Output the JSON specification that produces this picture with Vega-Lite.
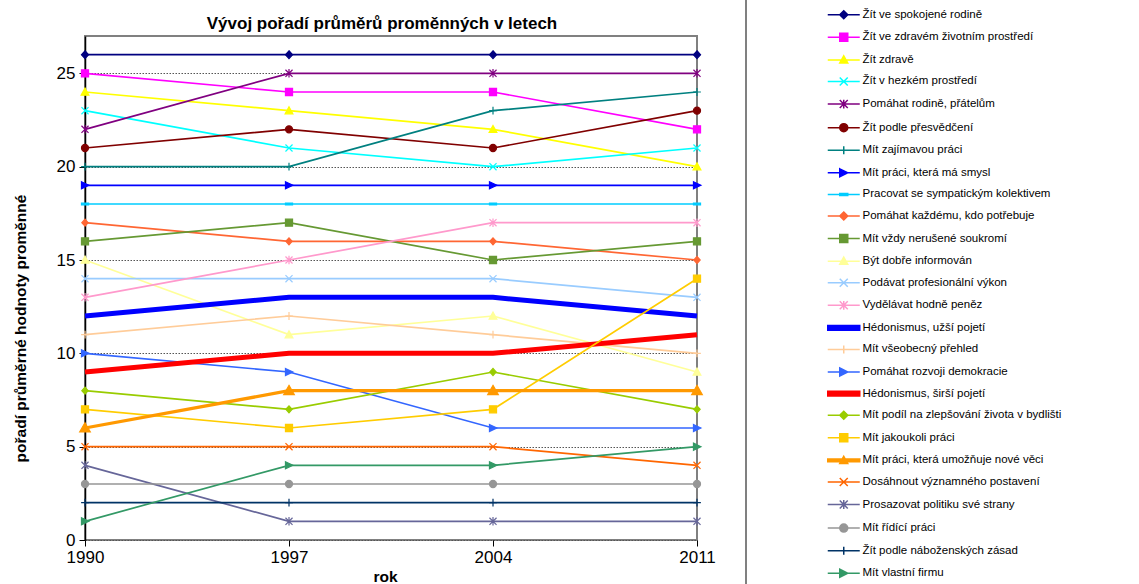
{
  "$schema": "https://vega.github.io/schema/vega-lite/v6.json",
  "width": 612,
  "height": 504,
  "autosize": "none",
  "padding": {"left": 85, "top": 36, "right": 442, "bottom": 44},
  "background": "white",
  "title": {"text": "Vývoj pořadí průměrů proměnných v letech", "font": "Liberation Sans", "fontSize": 17, "fontWeight": "bold", "color": "black", "anchor": "middle", "frame": "group", "dx": -9, "offset": -130, "baseline": "alphabetic"},
  "config": {
    "font": "Liberation Sans",
    "view": {"stroke": "#808080", "strokeWidth": 2},
    "legend": {
      "orient": "none",
      "legendX": 661,
      "legendY": -119,
      "padding": 92,
      "strokeColor": "#808080",
      "strokeWidth": 2,
      "symbolSize": 64,
      "symbolStrokeWidth": 1.5,
      "labelFont": "Liberation Sans",
      "labelFontSize": 11.5,
      "labelColor": "black",
      "labelOffset": 13,
      "labelLimit": 400,
      "rowPadding": 7.58
    }
  },
  "data": {"values": [
    {"name": "Žít ve spokojené rodině", "year": 1990, "value": 26},
    {"name": "Žít ve spokojené rodině", "year": 1997, "value": 26},
    {"name": "Žít ve spokojené rodině", "year": 2004, "value": 26},
    {"name": "Žít ve spokojené rodině", "year": 2011, "value": 26},
    {"name": "Žít ve zdravém životním prostředí", "year": 1990, "value": 25},
    {"name": "Žít ve zdravém životním prostředí", "year": 1997, "value": 24},
    {"name": "Žít ve zdravém životním prostředí", "year": 2004, "value": 24},
    {"name": "Žít ve zdravém životním prostředí", "year": 2011, "value": 22},
    {"name": "Žít zdravě", "year": 1990, "value": 24},
    {"name": "Žít zdravě", "year": 1997, "value": 23},
    {"name": "Žít zdravě", "year": 2004, "value": 22},
    {"name": "Žít zdravě", "year": 2011, "value": 20},
    {"name": "Žít v hezkém prostředí", "year": 1990, "value": 23},
    {"name": "Žít v hezkém prostředí", "year": 1997, "value": 21},
    {"name": "Žít v hezkém prostředí", "year": 2004, "value": 20},
    {"name": "Žít v hezkém prostředí", "year": 2011, "value": 21},
    {"name": "Pomáhat rodině, přátelům", "year": 1990, "value": 22},
    {"name": "Pomáhat rodině, přátelům", "year": 1997, "value": 25},
    {"name": "Pomáhat rodině, přátelům", "year": 2004, "value": 25},
    {"name": "Pomáhat rodině, přátelům", "year": 2011, "value": 25},
    {"name": "Žít podle přesvědčení", "year": 1990, "value": 21},
    {"name": "Žít podle přesvědčení", "year": 1997, "value": 22},
    {"name": "Žít podle přesvědčení", "year": 2004, "value": 21},
    {"name": "Žít podle přesvědčení", "year": 2011, "value": 23},
    {"name": "Mít zajímavou práci", "year": 1990, "value": 20},
    {"name": "Mít zajímavou práci", "year": 1997, "value": 20},
    {"name": "Mít zajímavou práci", "year": 2004, "value": 23},
    {"name": "Mít zajímavou práci", "year": 2011, "value": 24},
    {"name": "Mít práci, která má smysl", "year": 1990, "value": 19},
    {"name": "Mít práci, která má smysl", "year": 1997, "value": 19},
    {"name": "Mít práci, která má smysl", "year": 2004, "value": 19},
    {"name": "Mít práci, která má smysl", "year": 2011, "value": 19},
    {"name": "Pracovat se sympatickým kolektivem", "year": 1990, "value": 18},
    {"name": "Pracovat se sympatickým kolektivem", "year": 1997, "value": 18},
    {"name": "Pracovat se sympatickým kolektivem", "year": 2004, "value": 18},
    {"name": "Pracovat se sympatickým kolektivem", "year": 2011, "value": 18},
    {"name": "Pomáhat každému, kdo potřebuje", "year": 1990, "value": 17},
    {"name": "Pomáhat každému, kdo potřebuje", "year": 1997, "value": 16},
    {"name": "Pomáhat každému, kdo potřebuje", "year": 2004, "value": 16},
    {"name": "Pomáhat každému, kdo potřebuje", "year": 2011, "value": 15},
    {"name": "Mít vždy nerušené soukromí", "year": 1990, "value": 16},
    {"name": "Mít vždy nerušené soukromí", "year": 1997, "value": 17},
    {"name": "Mít vždy nerušené soukromí", "year": 2004, "value": 15},
    {"name": "Mít vždy nerušené soukromí", "year": 2011, "value": 16},
    {"name": "Být dobře informován", "year": 1990, "value": 15},
    {"name": "Být dobře informován", "year": 1997, "value": 11},
    {"name": "Být dobře informován", "year": 2004, "value": 12},
    {"name": "Být dobře informován", "year": 2011, "value": 9},
    {"name": "Podávat profesionální výkon", "year": 1990, "value": 14},
    {"name": "Podávat profesionální výkon", "year": 1997, "value": 14},
    {"name": "Podávat profesionální výkon", "year": 2004, "value": 14},
    {"name": "Podávat profesionální výkon", "year": 2011, "value": 13},
    {"name": "Vydělávat hodně peněz", "year": 1990, "value": 13},
    {"name": "Vydělávat hodně peněz", "year": 1997, "value": 15},
    {"name": "Vydělávat hodně peněz", "year": 2004, "value": 17},
    {"name": "Vydělávat hodně peněz", "year": 2011, "value": 17},
    {"name": "Hédonismus, užší pojetí", "year": 1990, "value": 12},
    {"name": "Hédonismus, užší pojetí", "year": 1997, "value": 13},
    {"name": "Hédonismus, užší pojetí", "year": 2004, "value": 13},
    {"name": "Hédonismus, užší pojetí", "year": 2011, "value": 12},
    {"name": "Mít všeobecný přehled", "year": 1990, "value": 11},
    {"name": "Mít všeobecný přehled", "year": 1997, "value": 12},
    {"name": "Mít všeobecný přehled", "year": 2004, "value": 11},
    {"name": "Mít všeobecný přehled", "year": 2011, "value": 10},
    {"name": "Pomáhat rozvoji demokracie", "year": 1990, "value": 10},
    {"name": "Pomáhat rozvoji demokracie", "year": 1997, "value": 9},
    {"name": "Pomáhat rozvoji demokracie", "year": 2004, "value": 6},
    {"name": "Pomáhat rozvoji demokracie", "year": 2011, "value": 6},
    {"name": "Hédonismus, širší pojetí", "year": 1990, "value": 9},
    {"name": "Hédonismus, širší pojetí", "year": 1997, "value": 10},
    {"name": "Hédonismus, širší pojetí", "year": 2004, "value": 10},
    {"name": "Hédonismus, širší pojetí", "year": 2011, "value": 11},
    {"name": "Mít podíl na zlepšování života v bydlišti", "year": 1990, "value": 8},
    {"name": "Mít podíl na zlepšování života v bydlišti", "year": 1997, "value": 7},
    {"name": "Mít podíl na zlepšování života v bydlišti", "year": 2004, "value": 9},
    {"name": "Mít podíl na zlepšování života v bydlišti", "year": 2011, "value": 7},
    {"name": "Mít jakoukoli práci", "year": 1990, "value": 7},
    {"name": "Mít jakoukoli práci", "year": 1997, "value": 6},
    {"name": "Mít jakoukoli práci", "year": 2004, "value": 7},
    {"name": "Mít jakoukoli práci", "year": 2011, "value": 14},
    {"name": "Mít práci, která umožňuje nové věci", "year": 1990, "value": 6},
    {"name": "Mít práci, která umožňuje nové věci", "year": 1997, "value": 8},
    {"name": "Mít práci, která umožňuje nové věci", "year": 2004, "value": 8},
    {"name": "Mít práci, která umožňuje nové věci", "year": 2011, "value": 8},
    {"name": "Dosáhnout významného postavení", "year": 1990, "value": 5},
    {"name": "Dosáhnout významného postavení", "year": 1997, "value": 5},
    {"name": "Dosáhnout významného postavení", "year": 2004, "value": 5},
    {"name": "Dosáhnout významného postavení", "year": 2011, "value": 4},
    {"name": "Prosazovat politiku své strany", "year": 1990, "value": 4},
    {"name": "Prosazovat politiku své strany", "year": 1997, "value": 1},
    {"name": "Prosazovat politiku své strany", "year": 2004, "value": 1},
    {"name": "Prosazovat politiku své strany", "year": 2011, "value": 1},
    {"name": "Mít řídící práci", "year": 1990, "value": 3},
    {"name": "Mít řídící práci", "year": 1997, "value": 3},
    {"name": "Mít řídící práci", "year": 2004, "value": 3},
    {"name": "Mít řídící práci", "year": 2011, "value": 3},
    {"name": "Žít podle náboženských zásad", "year": 1990, "value": 2},
    {"name": "Žít podle náboženských zásad", "year": 1997, "value": 2},
    {"name": "Žít podle náboženských zásad", "year": 2004, "value": 2},
    {"name": "Žít podle náboženských zásad", "year": 2011, "value": 2},
    {"name": "Mít vlastní firmu", "year": 1990, "value": 1},
    {"name": "Mít vlastní firmu", "year": 1997, "value": 4},
    {"name": "Mít vlastní firmu", "year": 2004, "value": 4},
    {"name": "Mít vlastní firmu", "year": 2011, "value": 5}
  ]},
  "resolve": {"scale": {"fill": "independent", "stroke": "independent", "shape": "independent"}},
  "layer": [
    {
      "mark": {"type": "line", "clip": false},
      "encoding": {
        "x": {"field": "year", "type": "quantitative", "scale": {"domain": [1990, 2011], "nice": false, "zero": false},
          "axis": {"values": [1990, 1997, 2004, 2011], "format": "d", "title": "rok", "grid": false, "domain": false, "tickColor": "black", "tickSize": 6, "tickWidth": 1, "labelFontSize": 17, "labelColor": "black", "labelPadding": 3, "labelFlush": false, "titleFontSize": 15.5, "titleFontWeight": "bold", "titleColor": "black", "titleX": 300, "titleY": 41, "titleBaseline": "alphabetic", "titleAlign": "center"}},
        "y": {"field": "value", "type": "quantitative", "scale": {"domain": [0, 27], "nice": false},
          "axis": {"values": [0, 5, 10, 15, 20, 25], "title": "pořadí průměrné hodnoty proměnné", "grid": true, "gridColor": "#555555", "gridDash": [1.5, 1.5], "gridWidth": 1, "domain": true, "domainColor": "black", "domainWidth": 1.5, "tickColor": "black", "tickSize": 6, "tickWidth": 1, "labelFontSize": 17, "labelColor": "black", "labelPadding": 4, "labelFlush": false, "titleFontSize": 15.5, "titleFontWeight": "bold", "titleColor": "black", "titleX": -65, "titleY": 292, "titleAngle": 270, "titleAlign": "center", "titleBaseline": "middle"}},
        "color": {"field": "name", "type": "nominal", "legend": null,
          "scale": {"domain": ["Žít ve spokojené rodině", "Žít ve zdravém životním prostředí", "Žít zdravě", "Žít v hezkém prostředí", "Pomáhat rodině, přátelům", "Žít podle přesvědčení", "Mít zajímavou práci", "Mít práci, která má smysl", "Pracovat se sympatickým kolektivem", "Pomáhat každému, kdo potřebuje", "Mít vždy nerušené soukromí", "Být dobře informován", "Podávat profesionální výkon", "Vydělávat hodně peněz", "Hédonismus, užší pojetí", "Mít všeobecný přehled", "Pomáhat rozvoji demokracie", "Hédonismus, širší pojetí", "Mít podíl na zlepšování života v bydlišti", "Mít jakoukoli práci", "Mít práci, která umožňuje nové věci", "Dosáhnout významného postavení", "Prosazovat politiku své strany", "Mít řídící práci", "Žít podle náboženských zásad", "Mít vlastní firmu"],
            "range": ["#000080", "#FF00FF", "#FFFF00", "#00FFFF", "#800080", "#800000", "#008080", "#0000FF", "#00CCFF", "#FF6633", "#669933", "#FFFF99", "#99CCFF", "#FF99CC", "#0000FF", "#FFCC99", "#3366FF", "#FF0000", "#99CC00", "#FFCC00", "#FF9900", "#FF6600", "#666699", "#969696", "#003366", "#339966"]}},
        "strokeWidth": {"condition": [
          {"test": "datum.name === 'Hédonismus, užší pojetí' || datum.name === 'Hédonismus, širší pojetí'", "value": 5},
          {"test": "datum.name === 'Mít práci, která umožňuje nové věci'", "value": 3.3}
        ], "value": 1.7}
      }
    },
    {
      "mark": {"type": "point", "filled": true, "opacity": 1, "size": 50, "strokeWidth": 1.2, "clip": false},
      "encoding": {
        "x": {"field": "year", "type": "quantitative"},
        "y": {"field": "value", "type": "quantitative"},
        "fill": {"field": "name", "type": "nominal", "legend": null,
          "scale": {"domain": ["Žít ve spokojené rodině", "Žít ve zdravém životním prostředí", "Žít zdravě", "Žít v hezkém prostředí", "Pomáhat rodině, přátelům", "Žít podle přesvědčení", "Mít zajímavou práci", "Mít práci, která má smysl", "Pracovat se sympatickým kolektivem", "Pomáhat každému, kdo potřebuje", "Mít vždy nerušené soukromí", "Být dobře informován", "Podávat profesionální výkon", "Vydělávat hodně peněz", "Hédonismus, užší pojetí", "Mít všeobecný přehled", "Pomáhat rozvoji demokracie", "Hédonismus, širší pojetí", "Mít podíl na zlepšování života v bydlišti", "Mít jakoukoli práci", "Mít práci, která umožňuje nové věci", "Dosáhnout významného postavení", "Prosazovat politiku své strany", "Mít řídící práci", "Žít podle náboženských zásad", "Mít vlastní firmu"],
            "range": ["#000080", "#FF00FF", "#FFFF00", "#00FFFF", "#800080", "#800000", "#008080", "#0000FF", "#00CCFF", "#FF6633", "#669933", "#FFFF99", "#99CCFF", "#FF99CC", "#0000FF", "#FFCC99", "#3366FF", "#FF0000", "#99CC00", "#FFCC00", "#FF9900", "#FF6600", "#666699", "#969696", "#003366", "#339966"]}},
        "stroke": {"field": "name", "type": "nominal", "legend": null,
          "scale": {"domain": ["Žít ve spokojené rodině", "Žít ve zdravém životním prostředí", "Žít zdravě", "Žít v hezkém prostředí", "Pomáhat rodině, přátelům", "Žít podle přesvědčení", "Mít zajímavou práci", "Mít práci, která má smysl", "Pracovat se sympatickým kolektivem", "Pomáhat každému, kdo potřebuje", "Mít vždy nerušené soukromí", "Být dobře informován", "Podávat profesionální výkon", "Vydělávat hodně peněz", "Hédonismus, užší pojetí", "Mít všeobecný přehled", "Pomáhat rozvoji demokracie", "Hédonismus, širší pojetí", "Mít podíl na zlepšování života v bydlišti", "Mít jakoukoli práci", "Mít práci, která umožňuje nové věci", "Dosáhnout významného postavení", "Prosazovat politiku své strany", "Mít řídící práci", "Žít podle náboženských zásad", "Mít vlastní firmu"],
            "range": ["#000080", "#FF00FF", "#FFFF00", "#00FFFF", "#800080", "#800000", "#008080", "#0000FF", "#00CCFF", "#FF6633", "#669933", "#FFFF99", "#99CCFF", "#FF99CC", "#0000FF", "#FFCC99", "#3366FF", "#FF0000", "#99CC00", "#FFCC00", "#FF9900", "#FF6600", "#666699", "#969696", "#003366", "#339966"]}},
        "shape": {"field": "name", "type": "nominal", "legend": null,
          "scale": {"domain": ["Žít ve spokojené rodině", "Žít ve zdravém životním prostředí", "Žít zdravě", "Žít v hezkém prostředí", "Pomáhat rodině, přátelům", "Žít podle přesvědčení", "Mít zajímavou práci", "Mít práci, která má smysl", "Pracovat se sympatickým kolektivem", "Pomáhat každému, kdo potřebuje", "Mít vždy nerušené soukromí", "Být dobře informován", "Podávat profesionální výkon", "Vydělávat hodně peněz", "Hédonismus, užší pojetí", "Mít všeobecný přehled", "Pomáhat rozvoji demokracie", "Hédonismus, širší pojetí", "Mít podíl na zlepšování života v bydlišti", "Mít jakoukoli práci", "Mít práci, která umožňuje nové věci", "Dosáhnout významného postavení", "Prosazovat politiku své strany", "Mít řídící práci", "Žít podle náboženských zásad", "Mít vlastní firmu"],
            "range": ["M0,-1.1L1,0L0,1.1L-1,0Z", "M-1,-1H1V1H-1Z", "M0,-1.1L1.1,0.9L-1.1,0.9Z", "M-1,-1L1,1M-1,1L1,-1", "M-1,-1L1,1M-1,1L1,-1M0,-1.2V1.2", "M1,0A1,1,0,1,1,-1,0A1,1,0,1,1,1,0Z", "M-1.1,0H1.1M0,-1.1V1.1", "M-1,-1L1.1,0L-1,1Z", "M-1,-0.25H1V0.25H-1Z", "M0,-1L0.9,0L0,1L-0.9,0Z", "M-1,-1H1V1H-1Z", "M0,-1.1L1.1,0.9L-1.1,0.9Z", "M-1,-1L1,1M-1,1L1,-1", "M-1,-1L1,1M-1,1L1,-1M0,-1.2V1.2", "M0,0Z", "M-1.1,0H1.1M0,-1.1V1.1", "M-1,-1L1.1,0L-1,1Z", "M0,0Z", "M0,-1L0.9,0L0,1L-0.9,0Z", "M-1,-1H1V1H-1Z", "M0,-1.5L1.5,1.1L-1.5,1.1Z", "M-1,-1L1,1M-1,1L1,-1", "M-1,-1L1,1M-1,1L1,-1M0,-1.2V1.2", "M1,0A1,1,0,1,1,-1,0A1,1,0,1,1,1,0Z", "M-1.1,0H1.1M0,-1.1V1.1", "M-1,-1L1.1,0L-1,1Z"]}}
      }
    },
    {
      "transform": [{"filter": "false"}],
      "mark": {"type": "point", "filled": true, "opacity": 1},
      "encoding": {
        "fill": {"field": "name", "type": "nominal", "legend": {"title": null},
          "scale": {"domain": ["Žít ve spokojené rodině", "Žít ve zdravém životním prostředí", "Žít zdravě", "Žít v hezkém prostředí", "Pomáhat rodině, přátelům", "Žít podle přesvědčení", "Mít zajímavou práci", "Mít práci, která má smysl", "Pracovat se sympatickým kolektivem", "Pomáhat každému, kdo potřebuje", "Mít vždy nerušené soukromí", "Být dobře informován", "Podávat profesionální výkon", "Vydělávat hodně peněz", "Hédonismus, užší pojetí", "Mít všeobecný přehled", "Pomáhat rozvoji demokracie", "Hédonismus, širší pojetí", "Mít podíl na zlepšování života v bydlišti", "Mít jakoukoli práci", "Mít práci, která umožňuje nové věci", "Dosáhnout významného postavení", "Prosazovat politiku své strany", "Mít řídící práci", "Žít podle náboženských zásad", "Mít vlastní firmu"],
            "range": ["#000080", "#FF00FF", "#FFFF00", "#00FFFF", "#800080", "#800000", "#008080", "#0000FF", "#00CCFF", "#FF6633", "#669933", "#FFFF99", "#99CCFF", "#FF99CC", "#0000FF", "#FFCC99", "#3366FF", "#FF0000", "#99CC00", "#FFCC00", "#FF9900", "#FF6600", "#666699", "#969696", "#003366", "#339966"]}},
        "stroke": {"field": "name", "type": "nominal", "legend": {"title": null},
          "scale": {"domain": ["Žít ve spokojené rodině", "Žít ve zdravém životním prostředí", "Žít zdravě", "Žít v hezkém prostředí", "Pomáhat rodině, přátelům", "Žít podle přesvědčení", "Mít zajímavou práci", "Mít práci, která má smysl", "Pracovat se sympatickým kolektivem", "Pomáhat každému, kdo potřebuje", "Mít vždy nerušené soukromí", "Být dobře informován", "Podávat profesionální výkon", "Vydělávat hodně peněz", "Hédonismus, užší pojetí", "Mít všeobecný přehled", "Pomáhat rozvoji demokracie", "Hédonismus, širší pojetí", "Mít podíl na zlepšování života v bydlišti", "Mít jakoukoli práci", "Mít práci, která umožňuje nové věci", "Dosáhnout významného postavení", "Prosazovat politiku své strany", "Mít řídící práci", "Žít podle náboženských zásad", "Mít vlastní firmu"],
            "range": ["#000080", "#FF00FF", "#FFFF00", "#00FFFF", "#800080", "#800000", "#008080", "#0000FF", "#00CCFF", "#FF6633", "#669933", "#FFFF99", "#99CCFF", "#FF99CC", "#0000FF", "#FFCC99", "#3366FF", "#FF0000", "#99CC00", "#FFCC00", "#FF9900", "#FF6600", "#666699", "#969696", "#003366", "#339966"]}},
        "shape": {"field": "name", "type": "nominal", "legend": {"title": null},
          "scale": {"domain": ["Žít ve spokojené rodině", "Žít ve zdravém životním prostředí", "Žít zdravě", "Žít v hezkém prostředí", "Pomáhat rodině, přátelům", "Žít podle přesvědčení", "Mít zajímavou práci", "Mít práci, která má smysl", "Pracovat se sympatickým kolektivem", "Pomáhat každému, kdo potřebuje", "Mít vždy nerušené soukromí", "Být dobře informován", "Podávat profesionální výkon", "Vydělávat hodně peněz", "Hédonismus, užší pojetí", "Mít všeobecný přehled", "Pomáhat rozvoji demokracie", "Hédonismus, širší pojetí", "Mít podíl na zlepšování života v bydlišti", "Mít jakoukoli práci", "Mít práci, která umožňuje nové věci", "Dosáhnout významného postavení", "Prosazovat politiku své strany", "Mít řídící práci", "Žít podle náboženských zásad", "Mít vlastní firmu"],
            "range": ["M-4,0H4M0,-1L1,0L0,1L-1,0Z", "M-4,0H4M-1,-1H1V1H-1Z", "M-4,0H4M0,-1L1,0.8L-1,0.8Z", "M-4,0H4M-1,-1L1,1M-1,1L1,-1", "M-4,0H4M-1,-1L1,1M-1,1L1,-1M0,-1.1V1.1", "M-4,0H4M1,0A1,1,0,1,1,-1,0A1,1,0,1,1,1,0Z", "M-4,0H4M0,-1V1", "M-4,0H4M-1,-1L1,0L-1,1Z", "M-4,0H4M-1,-0.25H1V0.25H-1Z", "M-4,0H4M0,-1L1,0L0,1L-1,0Z", "M-4,0H4M-1,-1H1V1H-1Z", "M-4,0H4M0,-1L1,0.8L-1,0.8Z", "M-4,0H4M-1,-1L1,1M-1,1L1,-1", "M-4,0H4M-1,-1L1,1M-1,1L1,-1M0,-1.1V1.1", "M-4,-0.6H4V0.6H-4Z", "M-4,0H4M0,-1V1", "M-4,0H4M-1,-1L1,0L-1,1Z", "M-4,-0.6H4V0.6H-4Z", "M-4,0H4M0,-1L1,0L0,1L-1,0Z", "M-4,0H4M-1,-1H1V1H-1Z", "M-4,-0.35H4V0.35H-4ZM0,-1L1,0.8L-1,0.8Z", "M-4,0H4M-1,-1L1,1M-1,1L1,-1", "M-4,0H4M-1,-1L1,1M-1,1L1,-1M0,-1.1V1.1", "M-4,0H4M1,0A1,1,0,1,1,-1,0A1,1,0,1,1,1,0Z", "M-4,0H4M0,-1V1", "M-4,0H4M-1,-1L1,0L-1,1Z"]}}
      }
    }
  ]
}
